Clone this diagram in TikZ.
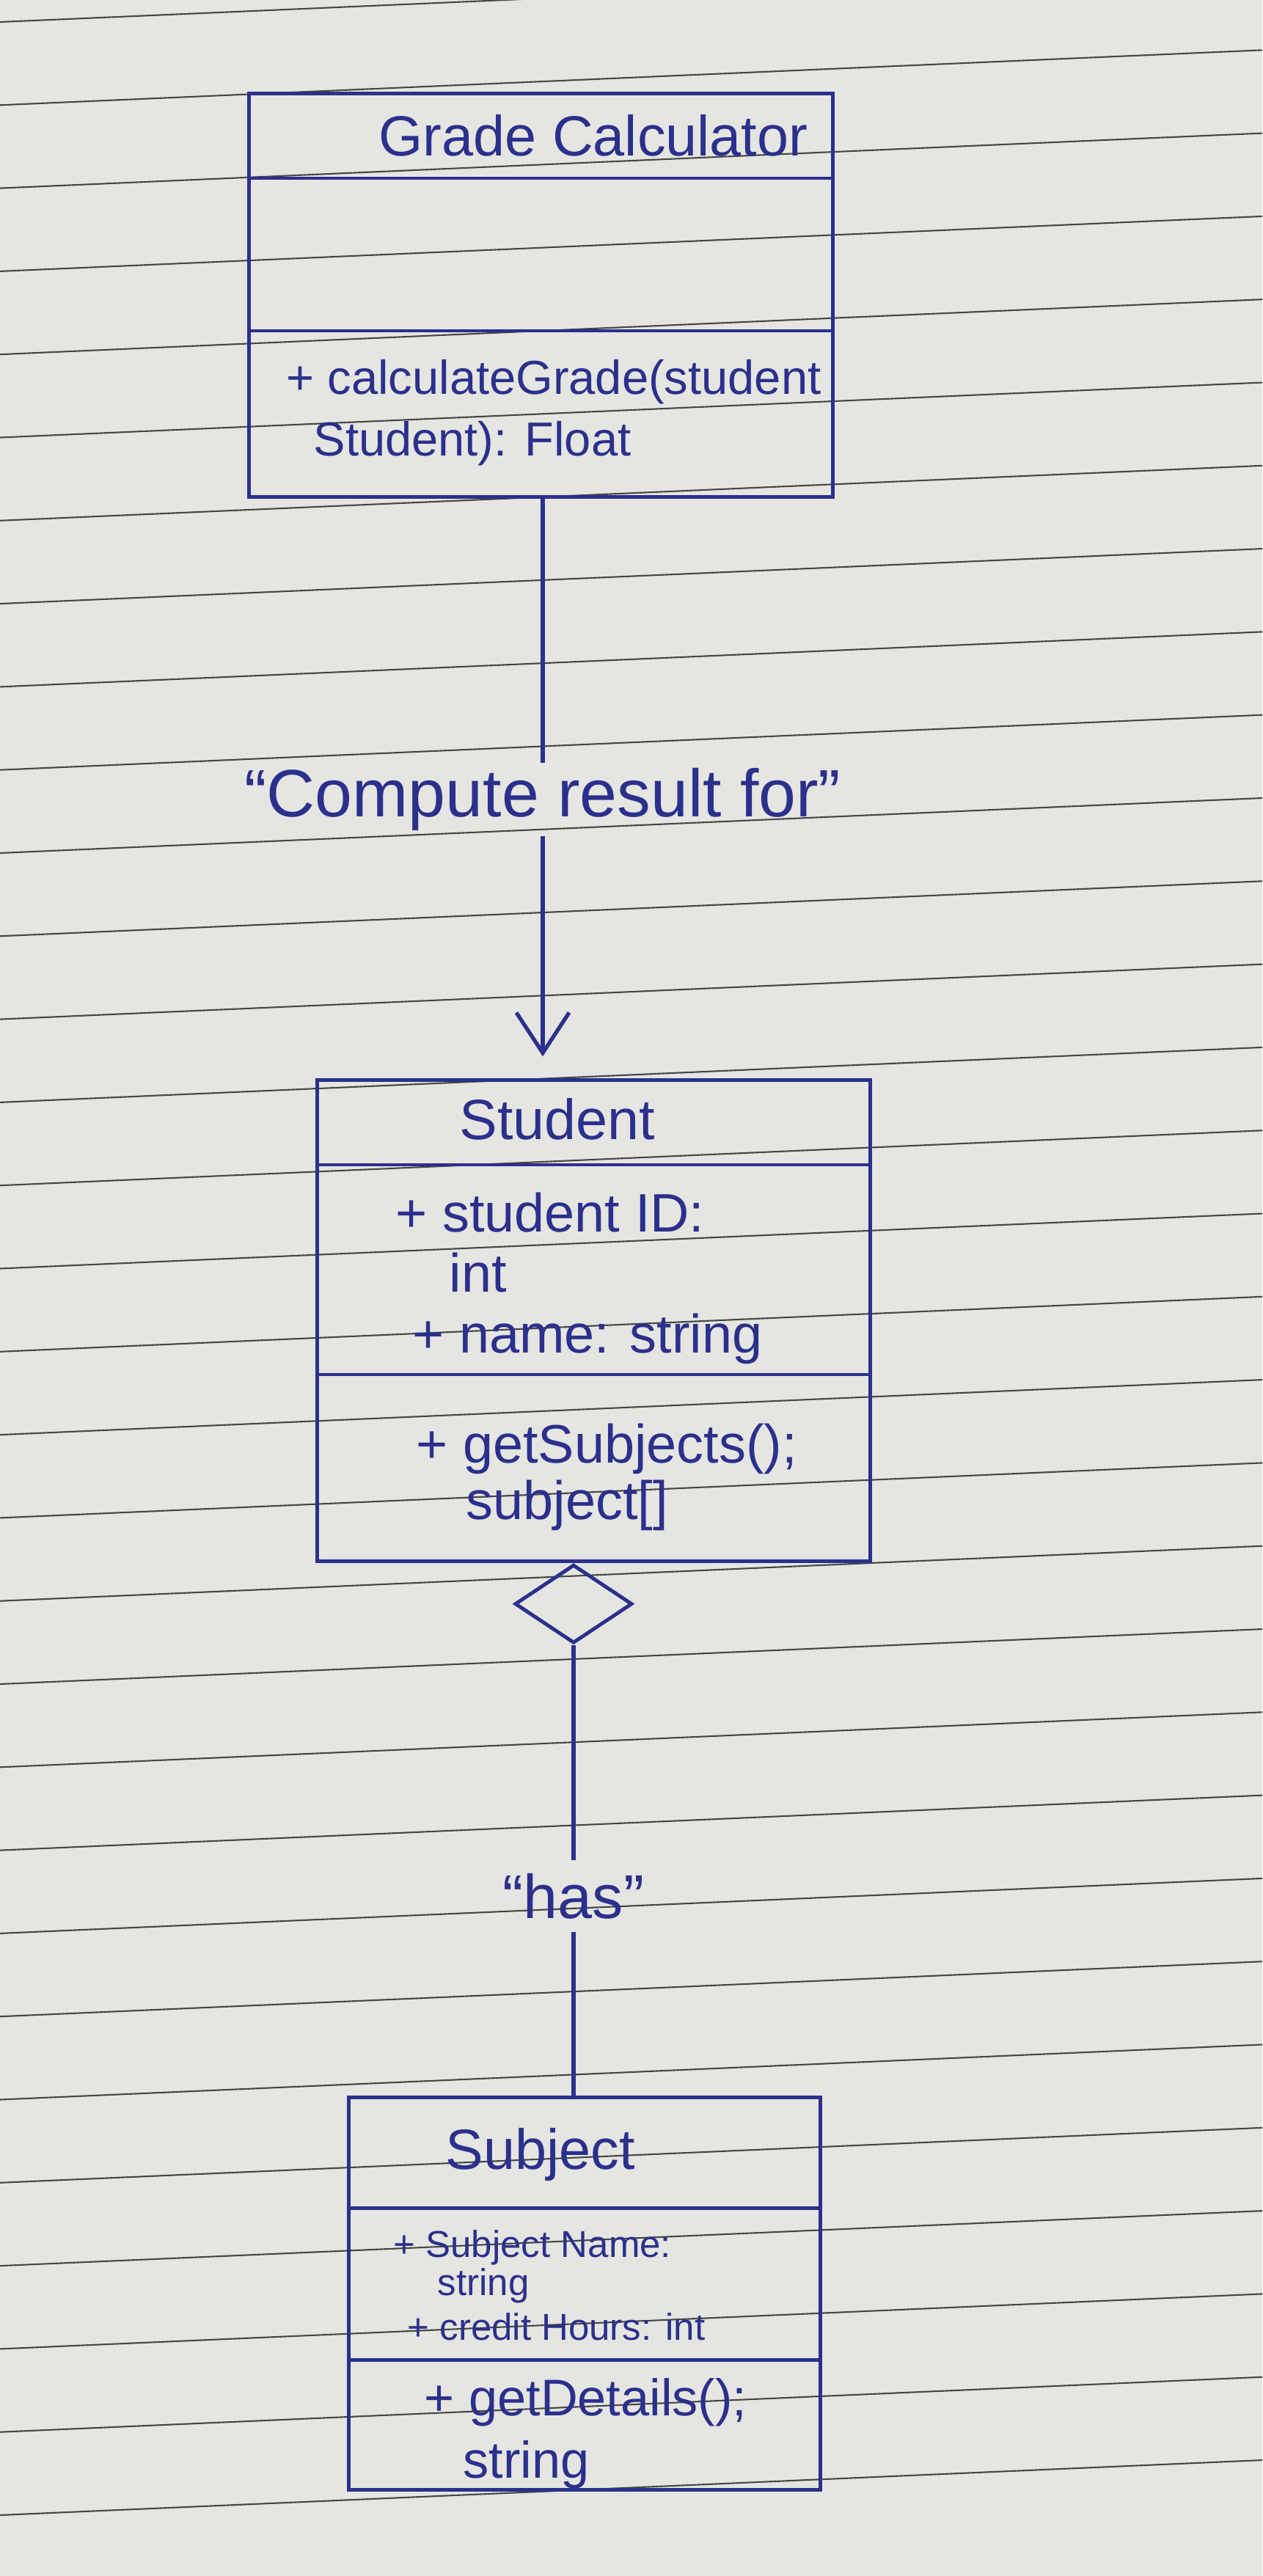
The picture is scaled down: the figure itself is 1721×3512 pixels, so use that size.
\documentclass[tikz,border=0pt]{standalone}
\usepackage{fontspec}
\setmainfont{Liberation Sans}
\usetikzlibrary{arrows.meta,shapes.geometric}
\definecolor{paper}{RGB}{229,229,226}
\definecolor{ink}{RGB}{43,48,140}
\definecolor{ruling}{RGB}{70,70,70}
\begin{document}
\begin{tikzpicture}[x=0.01cm,y=-0.01cm,
  classbox/.style={draw=ink, line width=1.4pt, rectangle, inner sep=0pt},
  classname/.style={text=ink, inner sep=0pt, font=\fontsize{22}{26}\selectfont},
  member/.style={text=ink, anchor=west, inner sep=0pt, font=\fontsize{#1}{#1}\selectfont},
  member/.default=20,
  divider/.style={draw=ink, line width=1.4pt},
  assoc/.style={draw=ink, line width=1.5pt},
  linklabel/.style={text=ink, inner sep=#1}]

% paper
\useasboundingbox (0,0) rectangle (1721,3512);
\clip (0,0) rectangle (1721,3512);
\fill[fill=paper] (0,0) rectangle (1721,3512);
\foreach \k in {0,...,30}
  \draw[ruling, line width=0.6pt] (0,{30+113.3*\k}) -- (1721,{-45+113.3*\k});

% classes
\node[classbox, minimum width=7.95cm, minimum height=5.49cm] (calc) at (737.5,402.5) {};
\node[classbox, minimum width=7.53cm, minimum height=6.55cm] (stud) at (809.5,1800.5) {};
\node[classbox, minimum width=6.42cm, minimum height=5.34cm] (subj) at (797,3127) {};

\draw[divider] (calc.west |- 0,243) -- (calc.east |- 0,243);
\draw[divider] (calc.west |- 0,451) -- (calc.east |- 0,451);
\draw[divider] (stud.west |- 0,1588) -- (stud.east |- 0,1588);
\draw[divider] (stud.west |- 0,1874) -- (stud.east |- 0,1874);
\draw[divider] (subj.west |- 0,3010) -- (subj.east |- 0,3010);
\draw[divider] (subj.west |- 0,3217) -- (subj.east |- 0,3217);

\node[classname] (calcname) at (809,185) {Grade Calculator};
\node[member=18.5] (calcop1) at (390,521) {+ calculateGrade(student};
\node[member=18.5] (calcop2) at (427,605) {Student): Float};

\node[classname] (studname) at (760,1526) {Student};
\node[member=21] (studat1) at (539,1653) {+ student ID:};
\node[member=21] (studat2) at (612,1735) {int};
\node[member=21] (studat3) at (562,1825) {+ name: string};
\node[member=21] (studop1) at (567,1975) {+ getSubjects();};
\node[member=21] (studop2) at (635,2052) {subject[]};

\node[classname] (subjname) at (737,2937) {Subject};
\node[member=14.5] (subjat1) at (536,3064) {+ Subject Name:};
\node[member=14.5] (subjat2) at (596,3116) {string};
\node[member=14.5] (subjat3) at (555,3172) {+ credit Hours: int};
\node[member] (subjop1) at (578,3275) {+ getDetails();};
\node[member] (subjop2) at (631,3360) {string};

% relations
\node[linklabel=0.07cm, font=\fontsize{26}{30}\selectfont] (lblA) at (740,1090) {``Compute result for''};
\draw[assoc] (lblA.north |- calc.south) -- (lblA.north);
\draw[assoc, -{Straight Barb[length=0.55cm,width=0.72cm]}, shorten >=0.3cm] (lblA.south) -- (lblA.south |- stud.north);

\node[diamond, draw=ink, line width=1.4pt, minimum width=1.6cm, minimum height=1.07cm, inner sep=0pt, anchor=north] (agg) at (stud.south -| 782,0) {};
\node[linklabel=0.17cm, font=\fontsize{24}{28}\selectfont] (lblB) at (782,2585) {``has''};
\draw[assoc] (agg.south) -- (lblB.north);
\draw[assoc] (lblB.south) -- (lblB.south |- subj.north);
\end{tikzpicture}
\end{document}
